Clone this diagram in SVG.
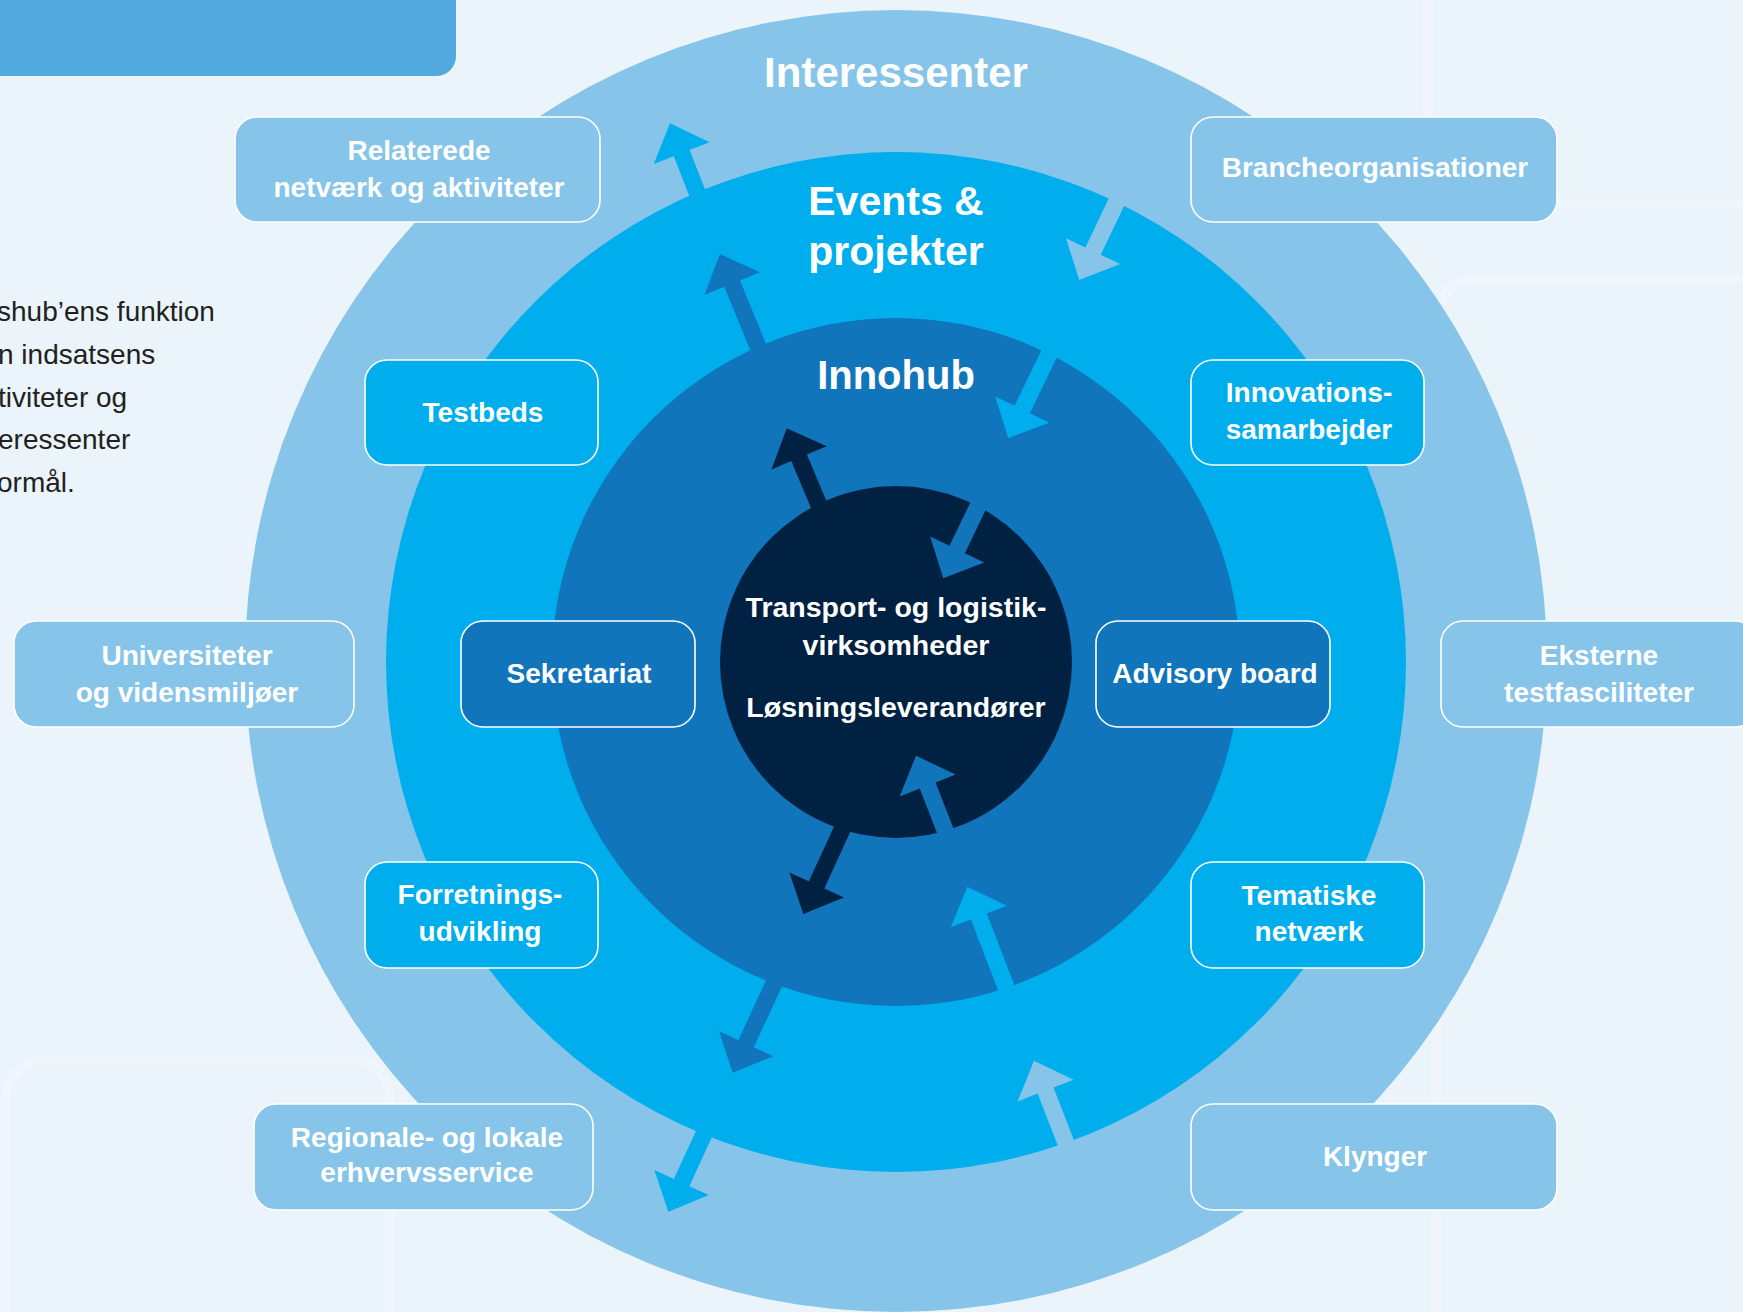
<svg xmlns="http://www.w3.org/2000/svg" width="1743" height="1312" viewBox="0 0 1743 1312">
<style>
.bg{fill:#EAF4FA}
.band{fill:none;stroke:#EFF7FC;stroke-width:9}
.box{stroke:#FFFFFF;stroke-width:1.6}
.b-out{fill:#86C5E9}
.b-ev{fill:#00AEEE}
.b-in{fill:#1175BC}
.lbl{font-family:"Liberation Sans",Arial,sans-serif;font-weight:bold;font-size:28px;fill:#FFFFFF;text-anchor:middle}
.ttl{font-family:"Liberation Sans",Arial,sans-serif;font-weight:bold;fill:#FFFFFF;text-anchor:middle}
.para{font-family:"Liberation Sans",Arial,sans-serif;font-size:28px;fill:#231F20}
</style>
<rect class="bg" x="0" y="0" width="1743" height="1312"/>
<g id="background-panels">
<rect class="band" x="1428" y="-200" width="400" height="403" rx="30"/>
<rect class="band" x="1436" y="279" width="400" height="1100" rx="40"/>
<rect class="band" x="6" y="1059" width="384" height="400" rx="40"/>
</g>
<rect id="banner" x="-30" y="-30" width="486" height="106" rx="20" fill="#52A9DF"/>
<g id="intro-text" class="para">
<text x="-3" y="321">shub’ens funktion</text>
<text x="-2" y="364">n indsatsens</text>
<text x="-2" y="407">tiviteter og</text>
<text x="-2" y="449">eressenter</text>
<text x="-3" y="492">ormål.</text>
</g>
<g id="ring-interessenter">
<circle cx="896" cy="661" r="651" fill="#86C5E9"/>
</g>
<g id="ring-events">
<circle cx="896" cy="662" r="510" fill="#00AEEE"/>
</g>
<g id="ring-innohub">
<circle cx="896" cy="662" r="344" fill="#1175BC"/>
</g>
<g id="core">
<circle cx="896" cy="662" r="176" fill="#002142"/>
</g>
<g id="connectors">
<path fill="#00AEEE" transform="translate(670,123.3) rotate(-21.4)" d="M0,0 L30,32 L8.5,32 L8.5,90 L-8.5,90 L-8.5,32 L-30,32 Z"/>
<path fill="#86C5E9" transform="translate(1079.3,280) rotate(-154.5)" d="M0,0 L30,32 L8.5,32 L8.5,100 L-8.5,100 L-8.5,32 L-30,32 Z"/>
<path fill="#1175BC" transform="translate(720,254) rotate(-22.3)" d="M0,0 L30,32 L8.5,32 L8.5,115 L-8.5,115 L-8.5,32 L-30,32 Z"/>
<path fill="#00AEEE" transform="translate(1008.3,438.3) rotate(-154.2)" d="M0,0 L30,32 L8.5,32 L8.5,111 L-8.5,111 L-8.5,32 L-30,32 Z"/>
<path fill="#002142" transform="translate(786.7,428.3) rotate(-22.8)" d="M0,0 L30,32 L8.5,32 L8.5,97 L-8.5,97 L-8.5,32 L-30,32 Z"/>
<path fill="#1175BC" transform="translate(943.3,578.3) rotate(-154.3)" d="M0,0 L30,32 L8.5,32 L8.5,94 L-8.5,94 L-8.5,32 L-30,32 Z"/>
<path fill="#1175BC" transform="translate(916,755.7) rotate(-21.3)" d="M0,0 L30,32 L8.5,32 L8.5,95 L-8.5,95 L-8.5,32 L-30,32 Z"/>
<path fill="#002142" transform="translate(803.3,914) rotate(-155.4)" d="M0,0 L30,32 L8.5,32 L8.5,107 L-8.5,107 L-8.5,32 L-30,32 Z"/>
<path fill="#00AEEE" transform="translate(967.3,886.7) rotate(-21.1)" d="M0,0 L30,32 L8.5,32 L8.5,125 L-8.5,125 L-8.5,32 L-30,32 Z"/>
<path fill="#1175BC" transform="translate(732.7,1072.7) rotate(-155.2)" d="M0,0 L30,32 L8.5,32 L8.5,110 L-8.5,110 L-8.5,32 L-30,32 Z"/>
<path fill="#86C5E9" transform="translate(1034,1060.7) rotate(-21.2)" d="M0,0 L30,32 L8.5,32 L8.5,103 L-8.5,103 L-8.5,32 L-30,32 Z"/>
<path fill="#00AEEE" transform="translate(668.3,1211.7) rotate(-155.4)" d="M0,0 L30,32 L8.5,32 L8.5,99 L-8.5,99 L-8.5,32 L-30,32 Z"/>
</g>
<g id="ring-titles">
<text class="ttl" x="896" y="87" font-size="42">Interessenter</text>
<text class="ttl" x="896" y="215" font-size="41">Events &amp;</text>
<text class="ttl" x="896" y="265" font-size="41">projekter</text>
<text class="ttl" x="896" y="389" font-size="40">Innohub</text>
</g>
<g id="core-text" class="lbl" style="font-size:28.5px">
<text x="896" y="617">Transport- og logistik-</text>
<text x="896" y="655">virksomheder</text>
<text x="896" y="717">Løsningsleverandører</text>
</g>
<g id="node-relaterede">
<rect class="box b-out" x="235" y="117" width="365" height="105" rx="22"/>
<text class="lbl" x="419" y="160">Relaterede</text>
<text class="lbl" x="419" y="197">netværk og aktiviteter</text>
</g>
<g id="node-brancheorganisationer">
<rect class="box b-out" x="1191" y="117" width="366" height="105" rx="22"/>
<text class="lbl" x="1375" y="177">Brancheorganisationer</text>
</g>
<g id="node-testbeds">
<rect class="box b-ev" x="365" y="360" width="233" height="105" rx="22"/>
<text class="lbl" x="483" y="422">Testbeds</text>
</g>
<g id="node-innovationssamarbejder">
<rect class="box b-ev" x="1191" y="360" width="233" height="105" rx="22"/>
<text class="lbl" x="1309" y="402">Innovations-</text>
<text class="lbl" x="1309" y="439">samarbejder</text>
</g>
<g id="node-universiteter">
<rect class="box b-out" x="14" y="621" width="340" height="106" rx="22"/>
<text class="lbl" x="187" y="665">Universiteter</text>
<text class="lbl" x="187" y="702">og vidensmiljøer</text>
</g>
<g id="node-sekretariat">
<rect class="box b-in" x="461" y="621" width="234" height="106" rx="22"/>
<text class="lbl" x="579" y="683">Sekretariat</text>
</g>
<g id="node-advisory-board">
<rect class="box b-in" x="1096" y="621" width="234" height="106" rx="22"/>
<text class="lbl" x="1215" y="683">Advisory board</text>
</g>
<g id="node-eksterne">
<rect class="box b-out" x="1441" y="621" width="316" height="106" rx="22"/>
<text class="lbl" x="1599" y="665">Eksterne</text>
<text class="lbl" x="1599" y="702">testfasciliteter</text>
</g>
<g id="node-forretningsudvikling">
<rect class="box b-ev" x="365" y="862" width="233" height="106" rx="22"/>
<text class="lbl" x="480" y="904">Forretnings-</text>
<text class="lbl" x="480" y="941">udvikling</text>
</g>
<g id="node-tematiske">
<rect class="box b-ev" x="1191" y="862" width="233" height="106" rx="22"/>
<text class="lbl" x="1309" y="905">Tematiske</text>
<text class="lbl" x="1309" y="941">netværk</text>
</g>
<g id="node-regionale">
<rect class="box b-out" x="254" y="1104" width="339" height="106" rx="22"/>
<text class="lbl" x="427" y="1147">Regionale- og lokale</text>
<text class="lbl" x="427" y="1182">erhvervsservice</text>
</g>
<g id="node-klynger">
<rect class="box b-out" x="1191" y="1104" width="366" height="106" rx="22"/>
<text class="lbl" x="1375" y="1166">Klynger</text>
</g>
</svg>
